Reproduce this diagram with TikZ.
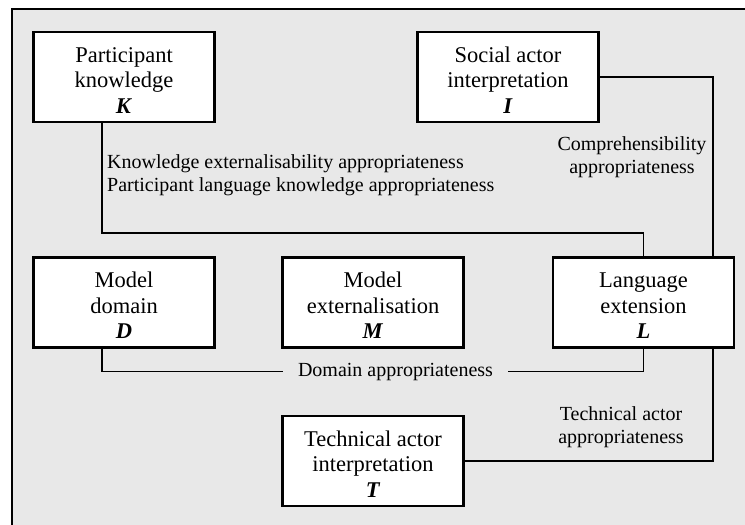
\documentclass[tikz,border=0pt]{standalone}
\usepackage{fontspec}
\setmainfont{Liberation Serif}
\begin{document}
\begin{tikzpicture}[x=1pt,y=-1pt,
  box/.style={draw,line width=2.6pt,fill=white,minimum width=181pt,minimum height=90pt,
    inner sep=0pt,align=center,text height=72pt,text depth=0pt,
    font=\fontsize{22.5}{25.5}\selectfont},
  link/.style={line width=1.8pt},
  lbl/.style={inner sep=0pt,align=center,font=\fontsize{20}{23}\selectfont}]
  \clip (0,0) rectangle (745,525);
  % frame
  \draw[line width=2pt,fill={rgb,255:red,232;green,232;blue,232}] (12,9) rectangle (760,540);
  % boxes
  \node[box] (K) at (124,77) {Participant\\knowledge\\\textbf{\textit{K}}};
  \node[box] (I) at (508,77) {Social actor\\interpretation\\\textbf{\textit{I}}};
  \node[box] (D) at (124,302.5) {Model\\domain\\\textbf{\textit{D}}};
  \node[box] (M) at (373,302.5) {Model\\externalisation\\\textbf{\textit{M}}};
  \node[box] (L) at (643.5,302.5) {Language\\extension\\\textbf{\textit{L}}};
  \node[box] (T) at (373,461) {Technical actor\\interpretation\\\textbf{\textit{T}}};
  % labels (base anchor sits on the last line)
  \node[lbl,anchor=base west,align=left] (kl) at (107,191)
    {Knowledge externalisability appropriateness\\Participant language knowledge appropriateness};
  \node[lbl,anchor=base] (cl) at (632,173) {Comprehensibility\\appropriateness};
  \node[lbl,anchor=base] (tl) at (621,443) {Technical actor\\appropriateness};
  \node[lbl,anchor=base,inner xsep=15pt] (dl) at (395.5,376) {Domain appropriateness};
  % connectors
  \draw[link] ([xshift=-22pt]K.south) |- ([yshift=23pt]L.north) -- (L.north);
  \draw[link] (I.east) -| ([xshift=-22pt]L.north east);
  \draw[link] ([xshift=-22pt]D.south) |- (dl.west);
  \draw[link] (dl.east) -| (L.south);
  \draw[link] ([xshift=-22pt]L.south east) |- (T.east);
\end{tikzpicture}
\end{document}
